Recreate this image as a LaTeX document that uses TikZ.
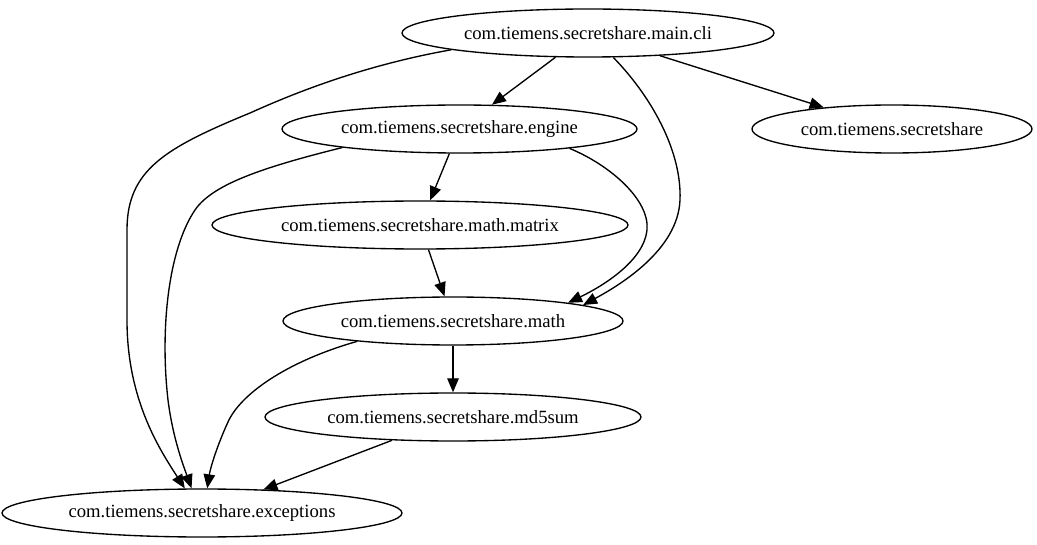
\documentclass[tikz,border=0pt]{standalone}
\usepackage{fontspec}
\setmainfont{Liberation Serif}
\usetikzlibrary{arrows.meta,shapes.geometric}
\tikzset{
  pkg/.style={ellipse, draw=black, line width=1.35pt, inner sep=0pt,
    minimum height=48pt, font=\fontsize{18.67}{22}\selectfont},
  dep/.style={line width=1.35pt, -{Triangle[length=14pt,width=11.5pt]}},
}
\newcommand{\pkgtxt}[1]{\makebox[0pt]{#1}}
\begin{document}
\begin{tikzpicture}[x=1pt,y=-1pt]
\useasboundingbox (0,0) rectangle (1037,545);
\node[pkg, minimum width=372pt] (cli) at (588,33) {\pkgtxt{com.tiemens.secretshare.main.cli}};
\node[pkg, minimum width=355pt] (engine) at (459.5,129) {\pkgtxt{com.tiemens.secretshare.engine}};
\node[pkg, minimum width=280pt] (ss) at (892,129) {\pkgtxt{com.tiemens.secretshare}};
\node[pkg, minimum width=416pt] (matrix) at (420,225) {\pkgtxt{com.tiemens.secretshare.math.matrix}};
\node[pkg, minimum width=340pt] (math) at (453,321) {\pkgtxt{com.tiemens.secretshare.math}};
\node[pkg, minimum width=376pt] (md5) at (453,417) {\pkgtxt{com.tiemens.secretshare.md5sum}};
\node[pkg, minimum width=400pt] (exc) at (202,513) {\pkgtxt{com.tiemens.secretshare.exceptions}};

\draw[dep] (cli) -- (engine);
\draw[dep] (cli) -- (ss);
\draw[dep] (engine) -- (matrix);
\draw[dep] (matrix) -- (math);
\draw[dep] (math) -- (md5);
\draw[dep] (md5) -- (exc);

\draw[dep] (cli.316) .. controls (650,95) and (682,150) .. (680,200)
  .. controls (678,250) and (620,285) .. (math.7);
\draw[dep] (engine.350) .. controls (610,165) and (650,200) .. (647,230)
  .. controls (644,260) and (605,285) .. (math.9);
\draw[dep] (cli.187) .. controls (360,66) and (290,95) .. (250,113)
  .. controls (165,148) and (127,170) .. (127,230) -- (127,320)
  .. controls (127,400) and (160,450) .. (exc.125);
\draw[dep] (engine.189) .. controls (260,168) and (212,185) .. (195,210)
  .. controls (168,250) and (160,330) .. (168,400)
  .. controls (173,440) and (185,470) .. (exc.113);
\draw[dep] (math.192) .. controls (285,362) and (240,395) .. (228,422)
  .. controls (216,448) and (210,470) .. (exc.78);
\end{tikzpicture}
\end{document}
